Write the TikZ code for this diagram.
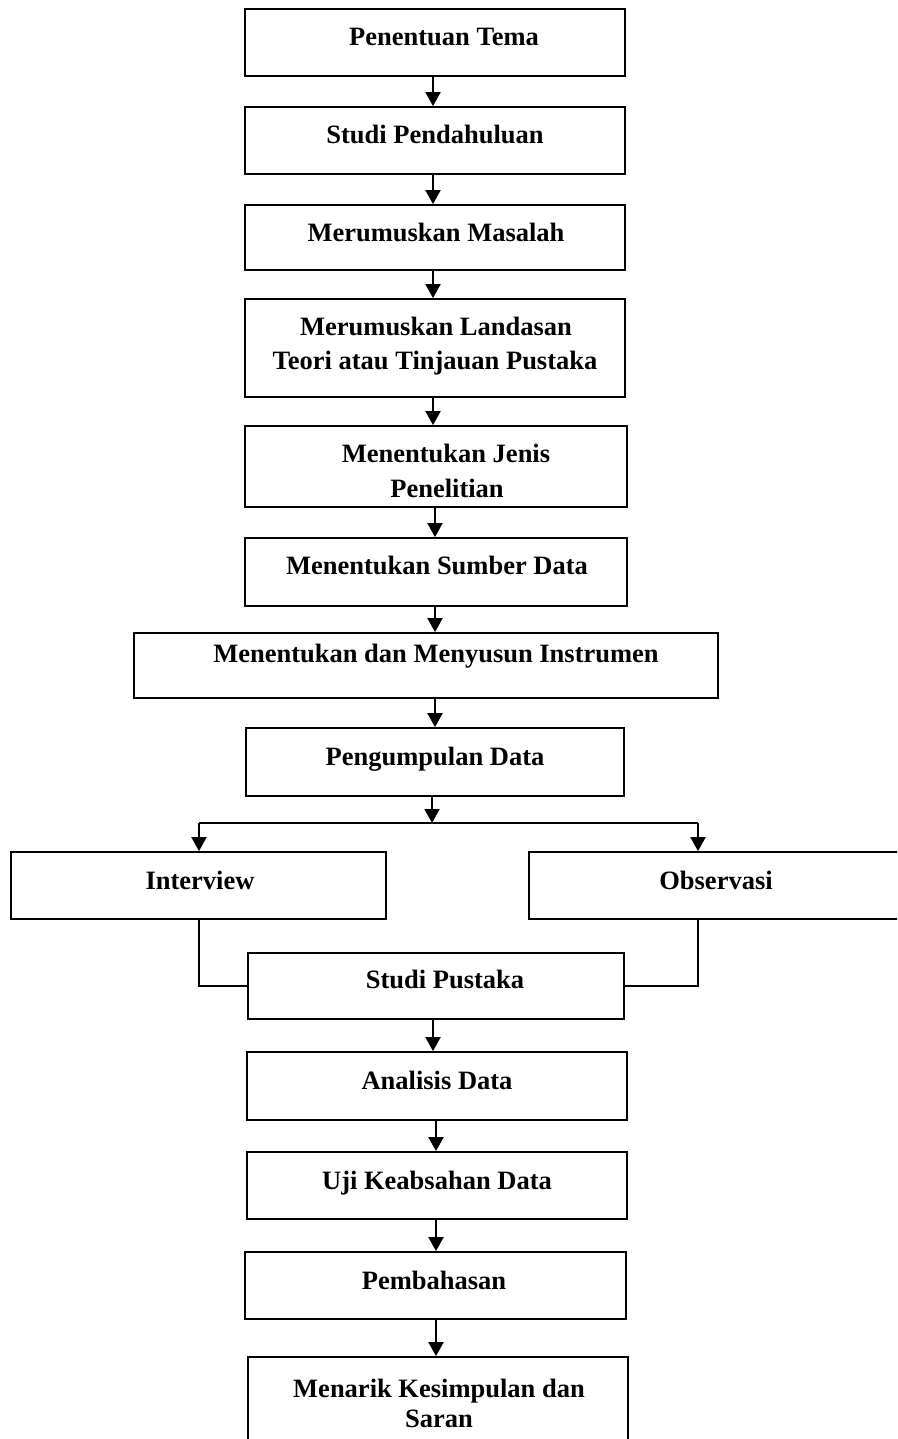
\documentclass[tikz,border=0pt]{standalone}
\usepackage{fontspec}
\setmainfont{Liberation Serif}
\usetikzlibrary{arrows.meta,calc}
\begin{document}
\begin{tikzpicture}[x=1pt,y=-1pt,
  box/.style={draw=black,line width=1.8pt,fill=white,inner sep=0pt},
  lbl/.style={anchor=base,inner sep=0pt,font=\fontsize{26.5}{30}\selectfont\bfseries},
  arr/.style={line width=2pt,-{Triangle[width=15pt,length=14pt]}},
  conn/.style={line width=1.6pt}]
\useasboundingbox (0,0) rectangle (897,1439);
\clip (0,0) rectangle (897,1439);
\fill[white] (0,0) rectangle (897,1439);
% boxes: left,right,top,bottom
\newcommand{\mybox}[5]{\node[box,minimum width={#3-#2},minimum height={#5-#4}] (#1) at ({(#2+#3)/2},{(#4+#5)/2}) {};}
\mybox{b1}{245}{625}{9}{76}
\mybox{b2}{245}{625}{107}{174}
\mybox{b3}{245}{625}{205}{270}
\mybox{b4}{245}{625}{299}{397}
\mybox{b5}{245}{627}{426}{507}
\mybox{b6}{245}{627}{538}{606}
\mybox{b7}{134}{718}{633}{698}
\mybox{b8}{246}{624}{728}{796}
\mybox{b9}{11}{386}{852}{919}
\mybox{b10}{529}{905}{852}{919}
\mybox{b11}{248}{624}{953}{1019}
\mybox{b12}{247}{627}{1052}{1120}
\mybox{b13}{247}{627}{1152}{1219}
\mybox{b14}{245}{626}{1252}{1319}
\mybox{b15}{248}{628}{1357}{1450}
% labels
\node[lbl] (t1) at (444,46) {Penentuan Tema};
\node[lbl] (t2) at (435,144) {Studi Pendahuluan};
\node[lbl] (t3) at (436,242) {Merumuskan Masalah};
\node[lbl] (t4a) at (436,335) {Merumuskan Landasan};
\node[lbl] (t4b) at (435,369) {Teori atau Tinjauan Pustaka};
\node[lbl] (t5a) at (446,462) {Menentukan Jenis};
\node[lbl] (t5b) at (447,497) {Penelitian};
\node[lbl] (t6) at (437,574) {Menentukan Sumber Data};
\node[lbl] (t7) at (436,662) {Menentukan dan Menyusun Instrumen};
\node[lbl] (t8) at (435,765) {Pengumpulan Data};
\node[lbl] (t9) at (200,889) {Interview};
\node[lbl] (t10) at (716,889) {Observasi};
\node[lbl] (t11) at (445,988) {Studi Pustaka};
\node[lbl] (t12) at (437,1089) {Analisis Data};
\node[lbl] (t13) at (437,1189) {Uji Keabsahan Data};
\node[lbl] (t14) at (434,1289) {Pembahasan};
\node[lbl] (t15a) at (439,1397) {Menarik Kesimpulan dan};
\node[lbl] (t15b) at (439,1427) {Saran};
% arrows
\coordinate (c1) at (433,0);
\coordinate (c2) at (435,0);
\coordinate (c3) at (436,0);
\draw[arr] (c1 |- b1.south) -- (c1 |- b2.north);
\draw[arr] (c1 |- b2.south) -- (c1 |- b3.north);
\draw[arr] (c1 |- b3.south) -- (c1 |- b4.north);
\draw[arr] (c1 |- b4.south) -- (c1 |- b5.north);
\draw[arr] (c2 |- b5.south) -- (c2 |- b6.north);
\draw[arr] (c2 |- b6.south) -- (c2 |- b7.north);
\draw[arr] (c2 |- b7.south) -- (c2 |- b8.north);
\coordinate (br) at (432,823);
\coordinate (brL) at (199,823);
\coordinate (brR) at (698,823);
\draw[arr] (br |- b8.south) -- (br);
\draw[line width=2pt] (brL) -- (brR);
\draw[arr] (brL) -- (brL |- b9.north);
\draw[arr] (brR) -- (brR |- b10.north);
\draw[conn] (brL |- b9.south) |- (b11.west);
\draw[conn] (brR |- b10.south) |- (b11.east);
\draw[arr] (c1 |- b11.south) -- (c1 |- b12.north);
\draw[arr] (c3 |- b12.south) -- (c3 |- b13.north);
\draw[arr] (c3 |- b13.south) -- (c3 |- b14.north);
\draw[arr] (c3 |- b14.south) -- (c3 |- b15.north);
\end{tikzpicture}
\end{document}
